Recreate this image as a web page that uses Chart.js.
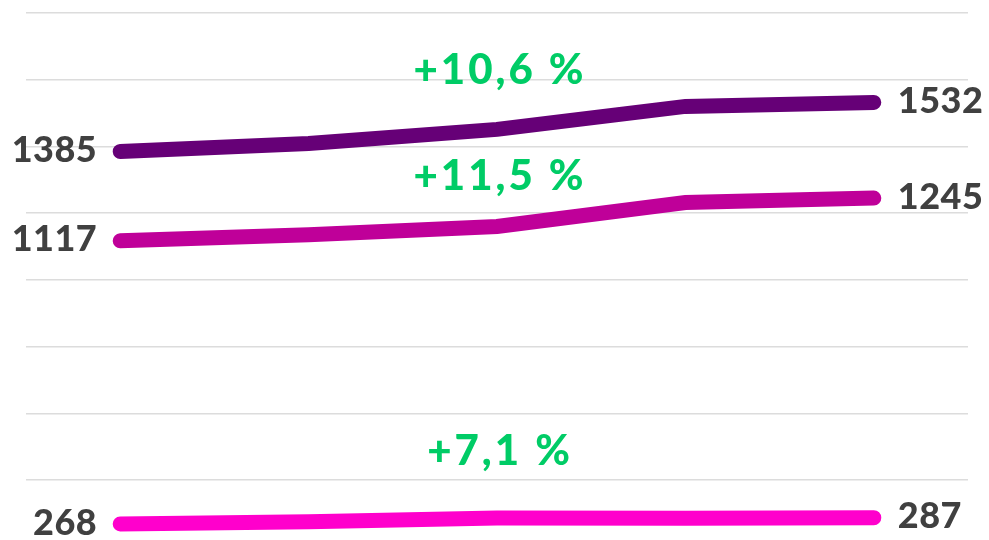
<!DOCTYPE html>
<html>
<head>
<meta charset="utf-8">
<script src="https://cdn.jsdelivr.net/npm/chart.js@4"></script>
<style>
  html, body { margin: 0; padding: 0; background: #ffffff; }
  #wrap { width: 989px; height: 540px; }
</style>
</head>
<body>
<div id="wrap"><canvas id="chart" width="989" height="540"></canvas></div>
<script>
const categories = ["1", "2", "3", "4", "5"];
const seriesTop = [1385, 1409, 1451, 1520, 1532];
const seriesMid = [1117, 1135, 1160, 1232, 1245];
const seriesLow = [268, 275, 286, 285, 287];
const changeLabels = ["+10,6 %", "+11,5 %", "+7,1 %"];
const gridTicks = [400, 600, 800, 1000, 1200, 1400, 1600, 1800];

const lineColors = ["#660077", "#bf0099", "#ff00cc"];
const changeOffsets = [45, 36, 53];

const textColor = "#404040";
const greenColor = "#00cc66";

const labelPlugin = {
  id: "endLabels",
  afterDatasetsDraw(chart) {
    const ctx = chart.ctx;
    const xScale = chart.scales.x;
    const yScale = chart.scales.y;
    const last = categories.length - 1;
    ctx.save();
    chart.data.datasets.forEach((ds, i) => {
      const first = ds.data[0];
      const end = ds.data[last];
      ctx.fillStyle = textColor;
      ctx.font = "900 36px Lato";
      ctx.letterSpacing = "0.5px";
      ctx.textBaseline = "middle";
      ctx.textAlign = "right";
      ctx.fillText(String(first), xScale.getPixelForValue(0) - 23, yScale.getPixelForValue(first) - 1);
      ctx.textAlign = "left";
      ctx.fillText(String(end), xScale.getPixelForValue(last) + 24, yScale.getPixelForValue(end) - 1);

      ctx.fillStyle = greenColor;
      ctx.font = "900 42px Lato";
      ctx.letterSpacing = "3px";
      ctx.textAlign = "center";
      ctx.textBaseline = "alphabetic";
      ctx.fillText(changeLabels[i], xScale.getPixelForValue(2) + 3, yScale.getPixelForValue(ds.data[2]) - changeOffsets[i]);
      ctx.letterSpacing = "0px";
    });
    ctx.restore();
  },
};

new Chart(document.getElementById("chart").getContext("2d"), {
  type: "line",
  data: {
    labels: categories,
    datasets: [seriesTop, seriesMid, seriesLow].map((values, i) => ({
      data: values,
      borderColor: lineColors[i],
      borderWidth: 15,
      borderCapStyle: "round",
      pointRadius: 0,
      tension: 0,
      clip: false,
    })),
  },
  options: {
    responsive: false,
    animation: false,
    layout: { padding: { left: 26, right: 21, top: 13, bottom: 0 } },
    plugins: { legend: { display: false }, tooltip: { enabled: false } },
    scales: {
      x: {
        display: false,
        offset: true,
      },
      y: {
        min: 220,
        max: 1800,
        afterBuildTicks: (scale) => {
          scale.ticks = gridTicks.map((v) => ({ value: v }));
        },
        afterFit: (scale) => {
          scale.width = 0;
        },
        ticks: { display: false },
        border: { display: false },
        grid: { color: "#dcdcdc", lineWidth: 1.5, drawTicks: false },
      },
    },
  },
  plugins: [labelPlugin],
});
</script>
</body>
</html>
